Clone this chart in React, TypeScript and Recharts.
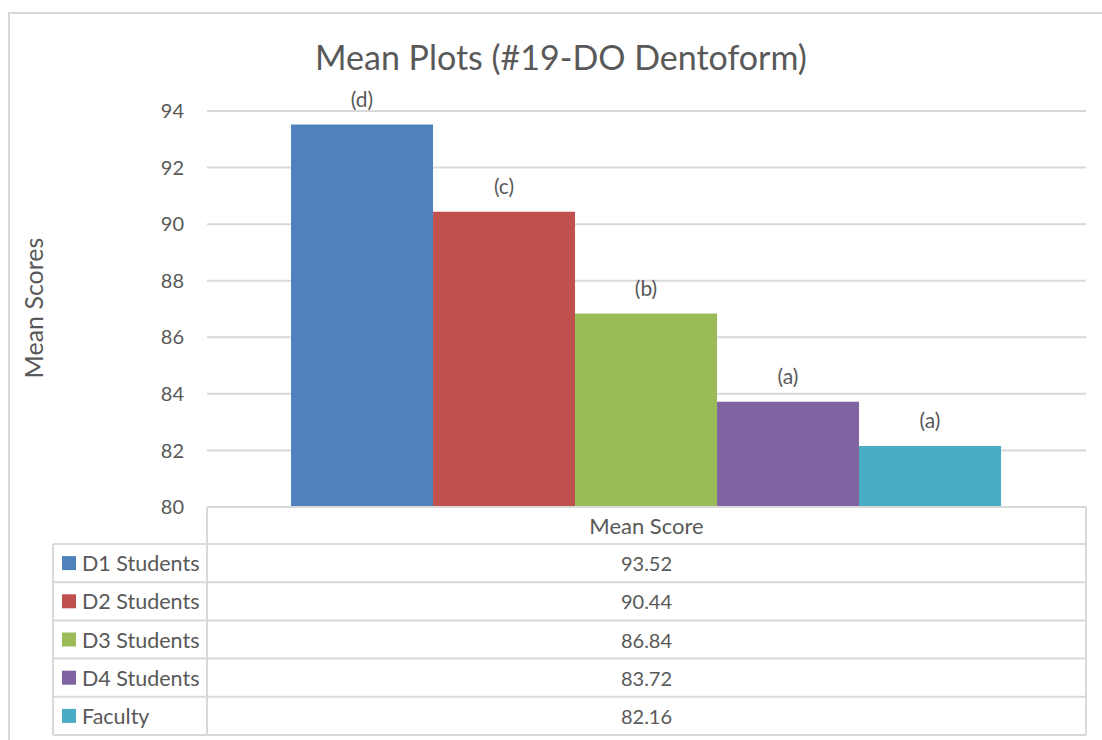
import { BarChart, Bar, XAxis, YAxis, CartesianGrid, LabelList } from 'recharts'

const SERIES = ['D1 Students', 'D2 Students', 'D3 Students', 'D4 Students', 'Faculty']
const MEANS = [93.52, 90.44, 86.84, 83.72, 82.16]
const GROUP_LETTERS = ['(d)', '(c)', '(b)', '(a)', '(a)']
const COLORS = ['#4F81BD', '#C0504D', '#9BBB59', '#8064A2', '#4BACC6']
const Y_TICKS = [80, 82, 84, 86, 88, 90, 92, 94]
const CATEGORY = 'Mean Score'
const TITLE = 'Mean Plots (#19-DO Dentoform)'
const Y_LABEL = 'Mean Scores'

const FONT = 'Lato, "Open Sans", sans-serif'
const TEXT = '#595959'
const LINE = '#d9d9d9'

// plot area in page pixels
const PLOT_LEFT = 207
const PLOT_RIGHT = 1086
const PLOT_TOP = 111
const PLOT_BOTTOM = 507

// data table
const HEADER_BOTTOM = 544
const ROW_H = 38.2
const KEY_COL_LEFT = 53

const chartData = [
    SERIES.reduce<Record<string, any>>((row, _s, i) => {
        row[`s${i}`] = MEANS[i]
        return row
    }, { name: CATEGORY }),
]

export default function App() {
    const tableBottom = HEADER_BOTTOM + ROW_H * SERIES.length
    return (
        <div style={{ position: 'absolute', left: 0, top: 0, width: 1102, height: 740, overflow: 'hidden', background: '#fff', fontFamily: FONT, color: TEXT }}>
            {/* outer chart border */}
            <div style={{ position: 'absolute', left: 8, top: 12, width: 1200, height: 800, borderLeft: `2px solid ${LINE}`, borderTop: `2px solid ${LINE}` }} />

            <div style={{ position: 'absolute', left: 0, top: 34, width: 1122, textAlign: 'center', fontSize: 34, lineHeight: '46px' }}>
                {TITLE}
            </div>

            <div style={{ position: 'absolute', left: 33, top: 308, transform: 'translate(-50%, -50%) rotate(-90deg)', whiteSpace: 'nowrap', fontSize: 25 }}>
                {Y_LABEL}
            </div>

            <div style={{ position: 'absolute', left: 0, top: 0 }}>
                <BarChart
                    width={1102}
                    height={740}
                    data={chartData}
                    margin={{ top: PLOT_TOP, right: 1102 - PLOT_RIGHT, bottom: 740 - PLOT_BOTTOM, left: PLOT_LEFT - 60 }}
                    barGap={0}
                    barCategoryGap="9.56%"
                >
                    <CartesianGrid vertical={false} stroke={LINE} strokeWidth={2} />
                    <XAxis dataKey="name" hide />
                    <YAxis
                        width={60}
                        domain={[80, 94]}
                        ticks={Y_TICKS}
                        axisLine={false}
                        tickLine={false}
                        tickSize={0}
                        tickMargin={23}
                        tick={{ fill: TEXT, fontSize: 20, fontFamily: FONT }}
                    />
                    {SERIES.map((s, i) => (
                        <Bar key={s} dataKey={`s${i}`} name={s} fill={COLORS[i]} isAnimationActive={false}>
                            <LabelList
                                dataKey={`s${i}`}
                                position="top"
                                offset={18}
                                formatter={() => GROUP_LETTERS[i]}
                                style={{ fill: TEXT, fontSize: 21, fontFamily: FONT }}
                            />
                        </Bar>
                    ))}
                </BarChart>
            </div>

            {/* data table */}
            <svg width={1102} height={740} style={{ position: 'absolute', left: 0, top: 0, pointerEvents: 'none' }}>
                <g stroke={LINE} strokeWidth={2} fill="none">
                    <line x1={PLOT_LEFT} y1={PLOT_BOTTOM} x2={PLOT_RIGHT} y2={PLOT_BOTTOM} />
                    <line x1={PLOT_LEFT} y1={PLOT_BOTTOM} x2={PLOT_LEFT} y2={tableBottom} />
                    <line x1={PLOT_RIGHT} y1={PLOT_BOTTOM} x2={PLOT_RIGHT} y2={tableBottom} />
                    <line x1={KEY_COL_LEFT} y1={HEADER_BOTTOM} x2={KEY_COL_LEFT} y2={tableBottom} />
                    {SERIES.map((s, i) => (
                        <line key={s} x1={KEY_COL_LEFT} y1={HEADER_BOTTOM + ROW_H * i} x2={PLOT_RIGHT} y2={HEADER_BOTTOM + ROW_H * i} />
                    ))}
                    <line x1={KEY_COL_LEFT} y1={tableBottom} x2={PLOT_RIGHT} y2={tableBottom} />
                </g>
                <text x={(PLOT_LEFT + PLOT_RIGHT) / 2} y={(PLOT_BOTTOM + HEADER_BOTTOM) / 2} textAnchor="middle" dominantBaseline="central" fill={TEXT} fontSize={22} fontFamily={FONT}>
                    {CATEGORY}
                </text>
                {SERIES.map((s, i) => {
                    const cy = HEADER_BOTTOM + ROW_H * i + ROW_H / 2
                    return (
                        <g key={s}>
                            <rect x={62} y={cy - 7} width={14} height={14} fill={COLORS[i]} />
                            <text x={82} y={cy} dominantBaseline="central" fill={TEXT} fontSize={21.5} fontFamily={FONT}>{s}</text>
                            <text x={(PLOT_LEFT + PLOT_RIGHT) / 2} y={cy} textAnchor="middle" dominantBaseline="central" fill={TEXT} fontSize={20} fontFamily={FONT}>
                                {MEANS[i].toFixed(2)}
                            </text>
                        </g>
                    )
                })}
            </svg>
        </div>
    )
}
